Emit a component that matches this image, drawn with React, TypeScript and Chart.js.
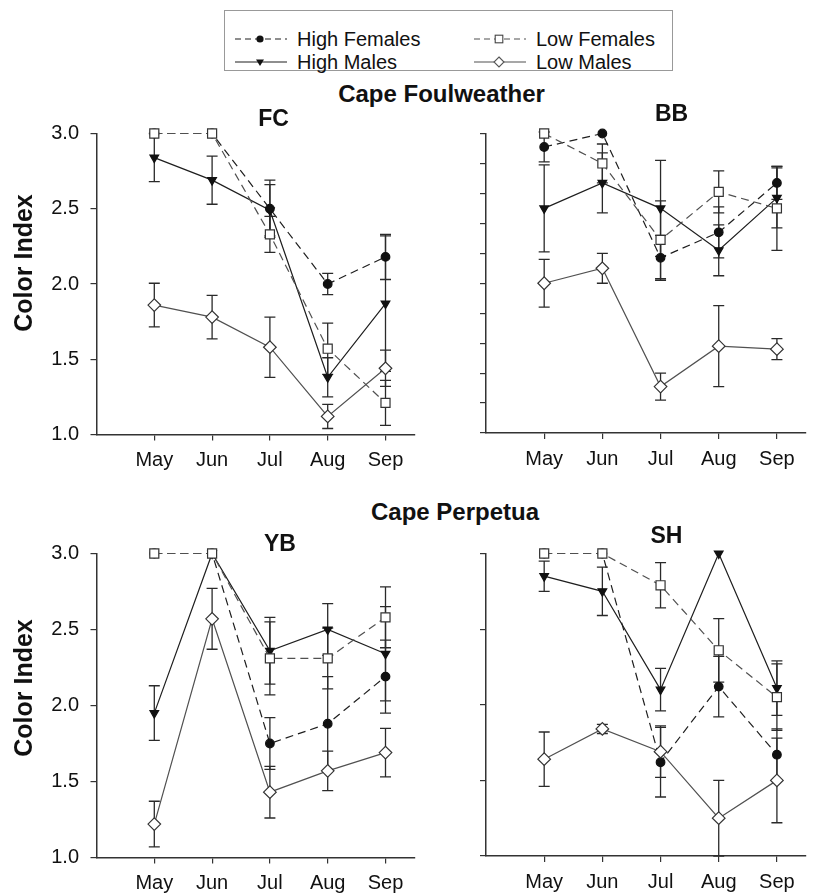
import React, { useEffect, useRef } from 'react';
import { Chart, registerables } from 'chart.js';

Chart.register(...registerables);

// ---------- data ----------
const months = ['May', 'Jun', 'Jul', 'Aug', 'Sep'];
const seriesNames = ['High Females', 'Low Females', 'High Males', 'Low Males'];
const siteTitles = ['Cape Foulweather', 'Cape Perpetua'];
const panelTitles = ['FC', 'BB', 'YB', 'SH'];
const yAxisTitle = 'Color Index';
const yTickValues = [1.0, 1.5, 2.0, 2.5, 3.0];

// FC
const fcHighFemales = [3.0, 3.0, 2.5, 2.0, 2.18];
const fcHighFemalesErr = [0, 0, 0.19, 0.07, 0.15];
const fcLowFemales = [3.0, 3.0, 2.33, 1.57, 1.21];
const fcLowFemalesErr = [0, 0, 0.12, 0.17, 0.15];
const fcHighMales = [2.84, 2.69, 2.49, 1.38, 1.87];
const fcHighMalesErr = [0.16, 0.16, 0.17, 0.13, 0.45];
const fcLowMales = [1.86, 1.78, 1.58, 1.12, 1.44];
const fcLowMalesErr = [0.145, 0.145, 0.2, 0.08, 0.12];

// BB
const bbHighFemales = [2.91, 3.0, 2.17, 2.34, 2.67];
const bbHighFemalesErr = [0.1, 0, 0.15, 0.17, 0.11];
const bbLowFemales = [3.0, 2.8, 2.29, 2.61, 2.5];
const bbLowFemalesErr = [0, 0.13, 0.26, 0.14, 0.28];
const bbHighMales = [2.5, 2.67, 2.5, 2.22, 2.57];
const bbHighMalesErr = [0.29, 0.2, 0.32, 0.17, 0.2];
const bbLowMales = [2.0, 2.1, 1.31, 1.58, 1.56];
const bbLowMalesErr = [0.16, 0.1, 0.09, 0.27, 0.07];

// YB
const ybHighFemales = [3.0, 3.0, 1.75, 1.88, 2.19];
const ybHighFemalesErr = [0, 0, 0.17, 0.31, 0.24];
const ybLowFemales = [3.0, 3.0, 2.31, 2.31, 2.58];
const ybLowFemalesErr = [0, 0, 0.24, 0.2, 0.2];
const ybHighMales = [1.95, 3.0, 2.36, 2.5, 2.34];
const ybHighMalesErr = [0.18, 0, 0.22, 0.17, 0.31];
const ybLowMales = [1.22, 2.57, 1.43, 1.57, 1.69];
const ybLowMalesErr = [0.15, 0.2, 0.17, 0.13, 0.16];

// SH
const shHighFemales = [3.0, 3.0, 1.62, 2.12, 1.67];
const shHighFemalesErr = [0, 0, 0.23, 0.2, 0.17];
const shLowFemales = [3.0, 3.0, 2.79, 2.36, 2.05];
const shLowFemalesErr = [0, 0, 0.15, 0.21, 0.22];
const shHighMales = [2.85, 2.75, 2.1, 3.0, 2.11];
const shHighMalesErr = [0.1, 0.16, 0.14, 0, 0.18];
const shLowMales = [1.64, 1.84, 1.69, 1.25, 1.5];
const shLowMalesErr = [0.18, 0.03, 0.17, 0.25, 0.28];

// ---------- styles ----------
const FONT = '"Liberation Sans", Arial, Helvetica, sans-serif';
const AXIS = '#333';
// drawOrder: lower = drawn on top
const seriesStyles = [
  { dash: [8, 5], pointStyle: 'circle', radius: 4.3, rotation: 0, fill: '#111', stroke: '#111', line: '#1e1e1e', drawOrder: 2 },
  { dash: [8, 5], pointStyle: 'rect', radius: 6.4, rotation: 0, fill: '#fff', stroke: '#333', line: '#505050', drawOrder: 0 },
  { dash: [], pointStyle: 'triangle', radius: 5, rotation: 180, fill: '#111', stroke: '#111', line: '#1e1e1e', drawOrder: 3 },
  { dash: [], pointStyle: 'rectRot', radius: 6.3, rotation: 0, fill: '#fff', stroke: '#333', line: '#505050', drawOrder: 1 },
];

const errorBarPlugin = {
  id: 'errorBars',
  beforeDatasetsDraw(chart: any) {
    const { ctx } = chart;
    const xs = chart.scales.x;
    const ys = chart.scales.y;
    ctx.save();
    ctx.strokeStyle = '#2a2a2a';
    ctx.lineWidth = 1.3;
    chart.data.datasets.forEach((ds: any) => {
      const errs: number[] = ds.errors || [];
      ds.data.forEach((pt: any, i: number) => {
        const e = errs[i];
        if (!e) return;
        const px = xs.getPixelForValue(pt.x);
        const top = ys.getPixelForValue(pt.y + e);
        const bot = ys.getPixelForValue(pt.y - e);
        ctx.beginPath();
        ctx.moveTo(px, top);
        ctx.lineTo(px, bot);
        ctx.moveTo(px - 5.5, top);
        ctx.lineTo(px + 5.5, top);
        ctx.moveTo(px - 5.5, bot);
        ctx.lineTo(px + 5.5, bot);
        ctx.stroke();
      });
    });
    ctx.restore();
  },
};

type PanelProps = {
  left: number;
  top: number;
  width: number;
  height: number;
  yAxisWidth: number;
  xAxisHeight: number;
  padTop: number;
  padRight: number;
  showYLabels: boolean;
  yStep: number;
  values: number[][];
  errors: number[][];
};

function Panel(p: PanelProps) {
  const ref = useRef<HTMLCanvasElement | null>(null);
  useEffect(() => {
    if (!ref.current) return;
    const datasets = p.values.map((vals, si) => {
      const st = seriesStyles[si];
      return {
        label: seriesNames[si],
        data: vals.map((v, i) => ({ x: i + 1, y: v })),
        errors: p.errors[si],
        order: st.drawOrder,
        borderColor: st.line,
        borderWidth: 1.2,
        borderDash: st.dash,
        pointStyle: st.pointStyle,
        pointRadius: st.radius,
        pointRotation: st.rotation,
        pointBackgroundColor: st.fill,
        pointBorderColor: st.stroke,
        pointBorderWidth: 1.2,
        fill: false,
        tension: 0,
        clip: false,
      };
    });
    const tickFont = { family: FONT, size: 20 };
    const chart = new Chart(ref.current, {
      type: 'line',
      data: { datasets: datasets as any },
      plugins: [errorBarPlugin],
      options: {
        animation: false,
        responsive: false,
        events: [],
        layout: { padding: { top: p.padTop, right: p.padRight, left: 0, bottom: 0 } },
        plugins: { legend: { display: false }, tooltip: { enabled: false }, title: { display: false } },
        scales: {
          x: {
            type: 'linear',
            min: 0,
            max: 5.5,
            afterBuildTicks: (s: any) => {
              s.ticks = months.map((_, i) => ({ value: i + 1 }));
            },
            afterFit: (s: any) => {
              s.height = p.xAxisHeight;
            },
            ticks: {
              autoSkip: false,
              maxRotation: 0,
              padding: 8,
              color: '#111',
              font: tickFont,
              callback: (v: any) => months[Math.round(Number(v)) - 1] ?? '',
            },
            grid: { drawOnChartArea: false, drawTicks: true, tickLength: 6, color: AXIS, lineWidth: 1.2 },
            border: { display: true, color: AXIS, width: 1.5 },
          },
          y: {
            type: 'linear',
            min: yTickValues[0],
            max: yTickValues[yTickValues.length - 1],
            afterFit: (s: any) => {
              s.width = p.yAxisWidth;
            },
            ticks: {
              stepSize: p.yStep,
              padding: 11.5,
              color: '#111',
              font: tickFont,
              callback: (v: any) => (p.showYLabels ? Number(v).toFixed(1) : ''),
            },
            grid: { drawOnChartArea: false, drawTicks: true, tickLength: 6, color: AXIS, lineWidth: 1.2 },
            border: { display: true, color: AXIS, width: 1.5 },
          },
        },
      } as any,
    });
    return () => chart.destroy();
  }, []);
  return (
    <canvas
      ref={ref}
      width={p.width}
      height={p.height}
      style={{ position: 'absolute', left: p.left, top: p.top, width: p.width, height: p.height, display: 'block' }}
    />
  );
}

function Label(props: { text: string; x: number; y: number; size: number; bold?: boolean; rotate?: boolean; left?: boolean }) {
  const { text, x, y, size, bold = true, rotate = false, left = false } = props;
  return (
    <div
      style={{
        position: 'absolute',
        left: x,
        top: y,
        transform: left ? 'translate(0,-50%)' : `translate(-50%,-50%)${rotate ? ' rotate(-90deg)' : ''}`,
        fontFamily: FONT,
        fontSize: size,
        fontWeight: bold ? 700 : 400,
        lineHeight: 1,
        whiteSpace: 'nowrap',
        color: '#111',
      }}
    >
      {text}
    </div>
  );
}

function Marker({ idx, cx, cy }: { idx: number; cx: number; cy: number }) {
  const st = seriesStyles[idx];
  if (st.pointStyle === 'circle') return <circle cx={cx} cy={cy} r={3.6} fill="#111" />;
  if (st.pointStyle === 'rect') return <rect x={cx - 3.8} y={cy - 3.8} width={7.6} height={7.6} fill="#fff" stroke="#444" strokeWidth={1.1} />;
  if (st.pointStyle === 'triangle')
    return <polygon points={`${cx - 4},${cy - 2.5} ${cx + 4},${cy - 2.5} ${cx},${cy + 4}`} fill="#111" />;
  return <polygon points={`${cx},${cy - 5} ${cx + 5},${cy} ${cx},${cy + 5} ${cx - 5},${cy}`} fill="#fff" stroke="#555" strokeWidth={1.1} />;
}

function LegendItem({ idx, x, y, textX }: { idx: number; x: number; y: number; textX: number }) {
  const st = seriesStyles[idx];
  return (
    <>
      <svg width={56} height={14} style={{ position: 'absolute', left: x, top: y - 7 }}>
        <line
          x1={0}
          y1={7}
          x2={52}
          y2={7}
          stroke={st.line}
          strokeWidth={1.2}
          strokeDasharray={st.dash.length ? '6 4' : undefined}
        />
        <Marker idx={idx} cx={25} cy={7} />
      </svg>
      <Label text={seriesNames[idx]} x={textX} y={y} size={20} bold={false} left />
    </>
  );
}

export default function App() {
  return (
    <div style={{ position: 'absolute', left: 0, top: 0, width: 814, height: 893, background: '#fff', overflow: 'hidden' }}>
      {/* legend */}
      <div
        style={{
          position: 'absolute',
          left: 224,
          top: 10,
          width: 447,
          height: 59,
          border: '1.5px solid #999',
        }}
      />
      <LegendItem idx={0} x={235} y={38.5} textX={297} />
      <LegendItem idx={1} x={474} y={38.5} textX={536} />
      <LegendItem idx={2} x={235} y={61.5} textX={297} />
      <LegendItem idx={3} x={474} y={61.5} textX={536} />

      <Panel
        left={0}
        top={110}
        width={422}
        height={372}
        yAxisWidth={96.5}
        xAxisHeight={47.5}
        padTop={17.5}
        padRight={4}
        showYLabels={true}
        yStep={0.5}
        values={[fcHighFemales, fcLowFemales, fcHighMales, fcLowMales]}
        errors={[fcHighFemalesErr, fcLowFemalesErr, fcHighMalesErr, fcLowMalesErr]}
      />
      <Panel
        left={430}
        top={110}
        width={384}
        height={372}
        yAxisWidth={56}
        xAxisHeight={49}
        padTop={14}
        padRight={8}
        showYLabels={false}
        yStep={0.2}
        values={[bbHighFemales, bbLowFemales, bbHighMales, bbLowMales]}
        errors={[bbHighFemalesErr, bbLowFemalesErr, bbHighMalesErr, bbLowMalesErr]}
      />
      <Panel
        left={0}
        top={530}
        width={422}
        height={363}
        yAxisWidth={96.5}
        xAxisHeight={35.5}
        padTop={19}
        padRight={4}
        showYLabels={true}
        yStep={0.5}
        values={[ybHighFemales, ybLowFemales, ybHighMales, ybLowMales]}
        errors={[ybHighFemalesErr, ybLowFemalesErr, ybHighMalesErr, ybLowMalesErr]}
      />
      <Panel
        left={430}
        top={530}
        width={384}
        height={363}
        yAxisWidth={56}
        xAxisHeight={37}
        padTop={17}
        padRight={8}
        showYLabels={false}
        yStep={0.5}
        values={[shHighFemales, shLowFemales, shHighMales, shLowMales]}
        errors={[shHighFemalesErr, shLowFemalesErr, shHighMalesErr, shLowMalesErr]}
      />

      <Label text={siteTitles[0]} x={441.5} y={94} size={24} />
      <Label text={panelTitles[0]} x={273.5} y={118} size={23} />
      <Label text={panelTitles[1]} x={671.5} y={113} size={23} />
      <Label text={siteTitles[1]} x={455} y={511.5} size={24} />
      <Label text={panelTitles[2]} x={280} y={542.5} size={23} />
      <Label text={panelTitles[3]} x={666.5} y={535} size={23} />
      <Label text={yAxisTitle} x={23} y={262.5} size={25} rotate />
      <Label text={yAxisTitle} x={23} y={687.5} size={25} rotate />
    </div>
  );
}
